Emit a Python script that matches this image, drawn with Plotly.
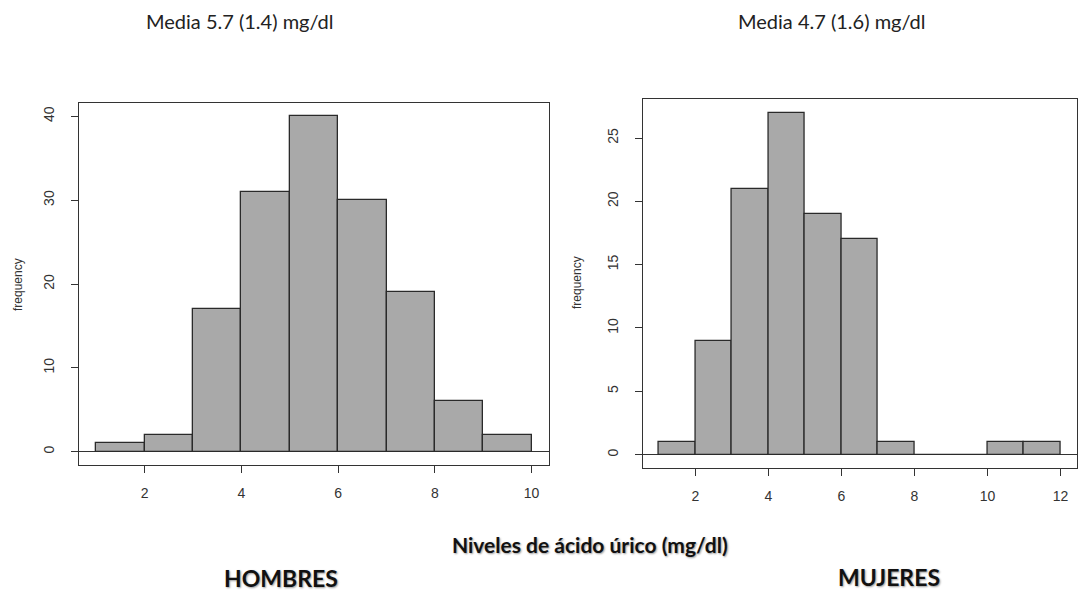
import plotly.graph_objects as go

# Histogram counts, one value per unit-wide bin starting at the given left edge
hombres_bin_left = [1, 2, 3, 4, 5, 6, 7, 8, 9]
hombres_counts = [1, 2, 17, 31, 40, 30, 19, 6, 2]

mujeres_bin_left = [1, 2, 3, 4, 5, 6, 7, 8, 9, 10, 11]
mujeres_counts = [1, 9, 21, 27, 19, 17, 1, 0, 0, 1, 1]

hombres_xticks = [2, 4, 6, 8, 10]
hombres_yticks = [0, 10, 20, 30, 40]
mujeres_xticks = [2, 4, 6, 8, 10, 12]
mujeres_yticks = [0, 5, 10, 15, 20, 25]

titulo_h = "Media 5.7 (1.4) mg/dl"
titulo_m = "Media 4.7 (1.6) mg/dl"
eje_x = "Niveles de ácido úrico (mg/dl)"
grupo_h = "HOMBRES"
grupo_m = "MUJERES"
eje_y = "frequency"

W, H = 1078, 596
BAR_FILL = "#a9a9a9"
EDGE = "#2a2a2a"
AXIS = "#333333"
TICK_FONT = dict(family="Liberation Sans, Arial, sans-serif", size=14, color="#333333")


def px_x(v):
    return v / W


def px_y(v):
    return 1 - v / H


fig = go.Figure()

fig.add_trace(go.Bar(
    x=[b + 0.5 for b in hombres_bin_left], y=hombres_counts, width=1,
    marker=dict(color=BAR_FILL, line=dict(color=EDGE, width=1.3)),
    xaxis="x", yaxis="y", showlegend=False, hoverinfo="x+y",
))
fig.add_trace(go.Bar(
    x=[b + 0.5 for b in mujeres_bin_left], y=mujeres_counts, width=1,
    marker=dict(color=BAR_FILL, line=dict(color=EDGE, width=1.3)),
    xaxis="x2", yaxis="y2", showlegend=False, hoverinfo="x+y",
))


def axis_style(**kw):
    base = dict(
        showline=True, mirror=True, linecolor=AXIS, linewidth=1.3,
        ticks="outside", ticklen=7, tickwidth=1.3, tickcolor=AXIS,
        showgrid=False, tickfont=TICK_FONT, tickmode="array",
        fixedrange=True,
    )
    base.update(kw)
    return base


def hist_range(lo, hi):
    pad = (hi - lo) * 0.04
    return [lo - pad, hi + pad]


fig.update_layout(
    width=W, height=H,
    margin=dict(l=0, r=0, t=0, b=0),
    paper_bgcolor="white", plot_bgcolor="white",
    bargap=0,
    xaxis=axis_style(
        domain=[px_x(79), px_x(549)], anchor="y",
        range=hist_range(hombres_bin_left[0], hombres_bin_left[-1] + 1),
        tickvals=hombres_xticks, zeroline=False, ticklabelstandoff=8,
    ),
    yaxis=axis_style(
        domain=[px_y(465), px_y(103)], anchor="x",
        range=hist_range(0, max(hombres_counts)),
        tickvals=hombres_yticks, tickangle=-90,
        zeroline=True, zerolinecolor=AXIS, zerolinewidth=1.3,
        ticklabelstandoff=11,
    ),
    xaxis2=axis_style(
        domain=[px_x(642.7), px_x(1076.6)], anchor="y2",
        range=hist_range(mujeres_bin_left[0], mujeres_bin_left[-1] + 1),
        tickvals=mujeres_xticks, zeroline=False, ticklabelstandoff=8,
    ),
    yaxis2=axis_style(
        domain=[px_y(468.3), px_y(99)], anchor="x2",
        range=hist_range(0, max(mujeres_counts)),
        tickvals=mujeres_yticks, tickangle=-90,
        zeroline=True, zerolinecolor=AXIS, zerolinewidth=1.3,
        ticklabelstandoff=11,
    ),
)

title_font = dict(family="Lato, Open Sans, sans-serif", size=20, color="#222222")
bold_font = dict(family="Lato, Open Sans, sans-serif", size=21, color="#111111",
                 weight="bold", shadow="1px 1px 2px #9a9a9a")
group_font = dict(family="Lato, Open Sans, sans-serif", size=23, color="#111111",
                  weight="bold", shadow="1px 1px 2px #9a9a9a")
ylab_font = dict(family="Liberation Sans, Arial, sans-serif", size=12, color="#333333")

notes = [
    (titulo_h, 240, 21, title_font, 0),
    (titulo_m, 832, 21, title_font, 0),
    (eje_x, 590, 544, bold_font, 0),
    (grupo_h, 281, 578, group_font, 0),
    (grupo_m, 889, 577, group_font, 0),
    (eje_y, 18, 285, ylab_font, -90),
    (eje_y, 577, 283, ylab_font, -90),
]
for text, x, y, font, ang in notes:
    fig.add_annotation(
        text=text, x=px_x(x), y=px_y(y), xref="paper", yref="paper",
        xanchor="center", yanchor="middle", showarrow=False,
        font=font, textangle=ang,
    )

fig.write_html("out.html")
